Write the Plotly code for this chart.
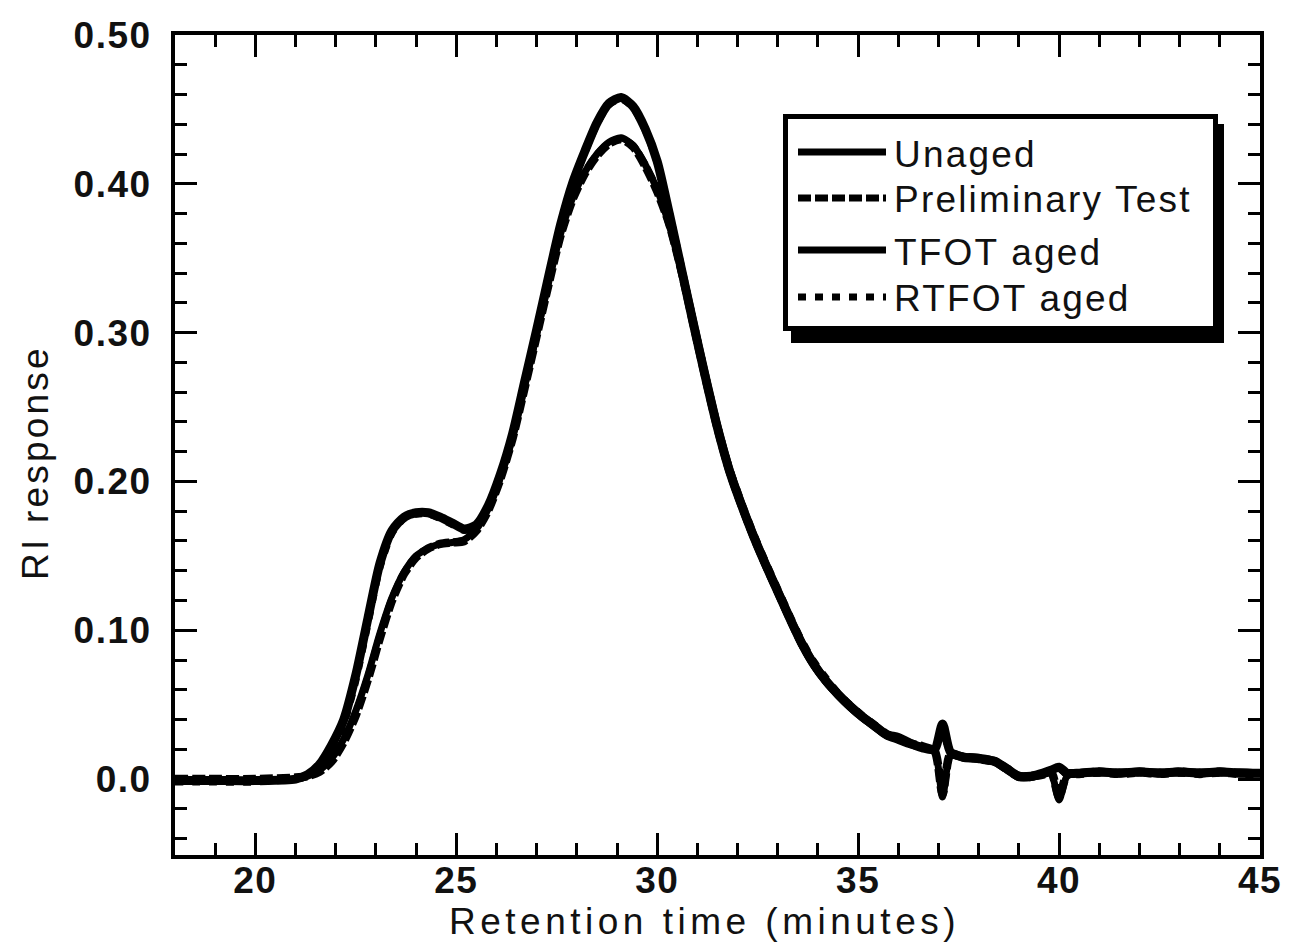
import plotly.graph_objects as go

# ---------------- data ----------------
retention_time = [
    18.0, 19.0, 20.0, 21.0, 21.3, 21.6, 21.9, 22.2, 22.5, 22.8,
    23.1, 23.4, 23.7, 24.0, 24.3, 24.6, 24.9, 25.2, 25.5, 25.8,
    26.1, 26.4, 26.7, 27.0, 27.3, 27.6, 27.9, 28.2, 28.5, 28.8,
    29.1, 29.4, 29.7, 30.0, 30.3, 30.6, 30.9, 31.2, 31.5, 31.8,
    32.1, 32.4, 32.7, 33.0, 33.3, 33.6, 33.9, 34.2, 34.5, 34.8,
    35.1, 35.4, 35.7, 36.0, 36.3, 36.6, 36.9, 37.1, 37.3, 37.6,
    38.0, 38.4, 38.7, 39.0, 39.3, 39.6, 39.8, 40.0, 40.2, 40.5,
    41.0, 41.5, 42.0, 42.5, 43.0, 43.5, 44.0, 44.5, 45.0,
]

unaged = [
    -0.001, -0.001, -0.001, 0.000, 0.002, 0.006, 0.014, 0.027, 0.046, 0.070,
    0.098, 0.122, 0.139, 0.150, 0.155, 0.158, 0.159, 0.161, 0.168, 0.182,
    0.203, 0.230, 0.264, 0.299, 0.334, 0.367, 0.391, 0.408, 0.420, 0.428,
    0.431, 0.426, 0.413, 0.396, 0.372, 0.341, 0.305, 0.269, 0.235, 0.206,
    0.183, 0.162, 0.143, 0.125, 0.107, 0.090, 0.076, 0.065, 0.056, 0.048,
    0.041, 0.035, 0.029, 0.026, 0.023, 0.021, 0.019, -0.012, 0.016, 0.014,
    0.013, 0.011, 0.006, 0.001, 0.001, 0.003, 0.004, -0.014, 0.002, 0.004,
    0.004, 0.005, 0.004, 0.005, 0.004, 0.005, 0.004, 0.005, 0.004,
]

preliminary_test = [
    0.000, 0.000, 0.000, 0.001, 0.002, 0.005, 0.012, 0.025, 0.043, 0.067,
    0.095, 0.120, 0.138, 0.149, 0.155, 0.158, 0.159, 0.160, 0.167, 0.181,
    0.202, 0.229, 0.263, 0.298, 0.333, 0.366, 0.390, 0.407, 0.419, 0.427,
    0.430, 0.425, 0.412, 0.395, 0.373, 0.342, 0.306, 0.270, 0.236, 0.207,
    0.184, 0.163, 0.144, 0.126, 0.108, 0.091, 0.077, 0.066, 0.057, 0.049,
    0.042, 0.036, 0.030, 0.027, 0.024, 0.022, 0.019, -0.010, 0.017, 0.015,
    0.014, 0.012, 0.007, 0.002, 0.002, 0.003, 0.005, -0.012, 0.003, 0.004,
    0.005, 0.004, 0.005, 0.004, 0.005, 0.004, 0.005, 0.004, 0.004,
]

tfot_aged = [
    -0.001, -0.001, -0.001, 0.000, 0.003, 0.010, 0.023, 0.040, 0.070, 0.108,
    0.145, 0.167, 0.176, 0.179, 0.179, 0.176, 0.172, 0.168, 0.171, 0.184,
    0.205, 0.232, 0.267, 0.302, 0.338, 0.373, 0.401, 0.422, 0.441, 0.454,
    0.458, 0.452, 0.437, 0.415, 0.380, 0.343, 0.306, 0.270, 0.236, 0.207,
    0.184, 0.163, 0.144, 0.126, 0.108, 0.091, 0.077, 0.066, 0.057, 0.049,
    0.042, 0.036, 0.030, 0.028, 0.024, 0.021, 0.020, 0.037, 0.018, 0.015,
    0.014, 0.012, 0.007, 0.002, 0.002, 0.004, 0.006, 0.008, 0.004, 0.004,
    0.005, 0.004, 0.005, 0.004, 0.005, 0.004, 0.005, 0.004, 0.004,
]

rtfot_aged = [
    -0.002, -0.002, -0.002, 0.000, 0.002, 0.008, 0.020, 0.037, 0.066, 0.104,
    0.142, 0.165, 0.175, 0.178, 0.178, 0.175, 0.171, 0.167, 0.170, 0.183,
    0.204, 0.231, 0.266, 0.301, 0.337, 0.372, 0.400, 0.421, 0.440, 0.453,
    0.457, 0.451, 0.436, 0.414, 0.381, 0.345, 0.308, 0.272, 0.238, 0.209,
    0.186, 0.165, 0.146, 0.128, 0.110, 0.093, 0.079, 0.068, 0.058, 0.050,
    0.043, 0.037, 0.031, 0.027, 0.024, 0.022, 0.020, 0.034, 0.017, 0.015,
    0.013, 0.011, 0.006, 0.001, 0.001, 0.003, 0.005, 0.007, 0.003, 0.003,
    0.004, 0.003, 0.004, 0.003, 0.004, 0.003, 0.004, 0.003, 0.003,
]

series_names = ["Unaged", "Preliminary Test", "TFOT aged", "RTFOT aged"]
x_tick_values = [20, 25, 30, 35, 40, 45]
x_tick_labels = ["20", "25", "30", "35", "40", "45"]
y_tick_values = [0.0, 0.1, 0.2, 0.3, 0.4, 0.5]
y_tick_labels = ["0.0", "0.10", "0.20", "0.30", "0.40", "0.50"]

# ---------------- styling ----------------
FONT = "Liberation Sans, Arial, sans-serif"
W, H = 1291, 947
PX0, PX1, PY0, PY1 = 175, 1260, 35, 855   # plot area in pixels


def fx(p):
    return (p - PX0) / (PX1 - PX0)


def fy(p):
    return (PY1 - p) / (PY1 - PY0)


styles = {
    "Unaged": dict(width=7, dash="solid"),
    "Preliminary Test": dict(width=8.5, dash="13px,4px"),
    "TFOT aged": dict(width=9, dash="solid"),
    "RTFOT aged": dict(width=7, dash="8px,9px"),
}
values = {
    "Unaged": unaged,
    "Preliminary Test": preliminary_test,
    "TFOT aged": tfot_aged,
    "RTFOT aged": rtfot_aged,
}

fig = go.Figure()
for name in series_names:
    st = styles[name]
    fig.add_trace(go.Scatter(
        x=retention_time, y=values[name], mode="lines", name=name,
        line=dict(color="black", width=st["width"], dash=st["dash"],
                  shape="spline", smoothing=0.7),
        showlegend=False,
    ))


def spaced(t, sp, bold=False):
    s = '<span style="letter-spacing:%spx">%s</span>' % (sp, t)
    return "<b>" + s + "</b>" if bold else s


axis_common = dict(
    showgrid=False, zeroline=False, showline=True, linecolor="black",
    linewidth=4, mirror="ticks", ticks="inside", ticklen=22, tickwidth=3,
    tickcolor="black", automargin=False,
    tickfont=dict(family=FONT, size=37, color="#111"),
)

fig.update_xaxes(
    range=[18, 45], tickmode="array", tickvals=x_tick_values,
    ticktext=[spaced(t, 1.5, True) for t in x_tick_labels],
    ticklabelstandoff=-10,
    minor=dict(tickmode="linear", tick0=0, dtick=1, ticks="inside",
               ticklen=12, tickwidth=3, tickcolor="black"),
    **axis_common,
)
fig.update_yaxes(
    range=[-0.051, 0.5], tickmode="array", tickvals=y_tick_values,
    ticktext=[spaced(t, 1.5, True) for t in y_tick_labels],
    ticklabelstandoff=12,
    minor=dict(tickmode="linear", tick0=0, dtick=0.02, ticks="inside",
               ticklen=12, tickwidth=3, tickcolor="black"),
    **axis_common,
)

shapes = []
annotations = []

# legend drawn as a framed box with a drop shadow
shapes.append(dict(type="rect", xref="paper", yref="paper", layer="above",
                   x0=fx(791), x1=fx(1224), y0=fy(343), y1=fy(124),
                   fillcolor="black", line=dict(width=0)))
shapes.append(dict(type="rect", xref="paper", yref="paper", layer="above",
                   x0=fx(785.5), x1=fx(1215.5), y0=fy(328.5), y1=fy(116.5),
                   fillcolor="white", line=dict(color="black", width=5)))
rows = [152, 198, 250, 297]
for name, ry in zip(series_names, rows):
    st = styles[name]
    shapes.append(dict(type="line", xref="paper", yref="paper", layer="above",
                       x0=fx(798), x1=fx(886), y0=fy(ry), y1=fy(ry),
                       line=dict(color="black", width=7, dash=st["dash"])))
    annotations.append(dict(
        x=fx(892), y=fy(ry + 2), xref="paper", yref="paper",
        xanchor="left", yanchor="middle", showarrow=False,
        text=spaced(name, 2.2),
        font=dict(family=FONT, size=37, color="#111")))

# axis titles
annotations.append(dict(
    x=fx(704), y=fy(921), xref="paper", yref="paper",
    xanchor="center", yanchor="middle", showarrow=False,
    text=spaced("Retention time (minutes)", 4.5),
    font=dict(family=FONT, size=37, color="#111")))
annotations.append(dict(
    x=fx(35), y=fy(463), xref="paper", yref="paper",
    xanchor="center", yanchor="middle", showarrow=False, textangle=-90,
    text=spaced("RI response", 3.2),
    font=dict(family=FONT, size=37, color="#111")))

fig.update_layout(
    width=W, height=H,
    margin=dict(l=PX0, r=W - PX1, t=PY0, b=H - PY1, pad=0),
    paper_bgcolor="white", plot_bgcolor="white",
    shapes=shapes, annotations=annotations, showlegend=False,
)

fig.write_html("out.html")
